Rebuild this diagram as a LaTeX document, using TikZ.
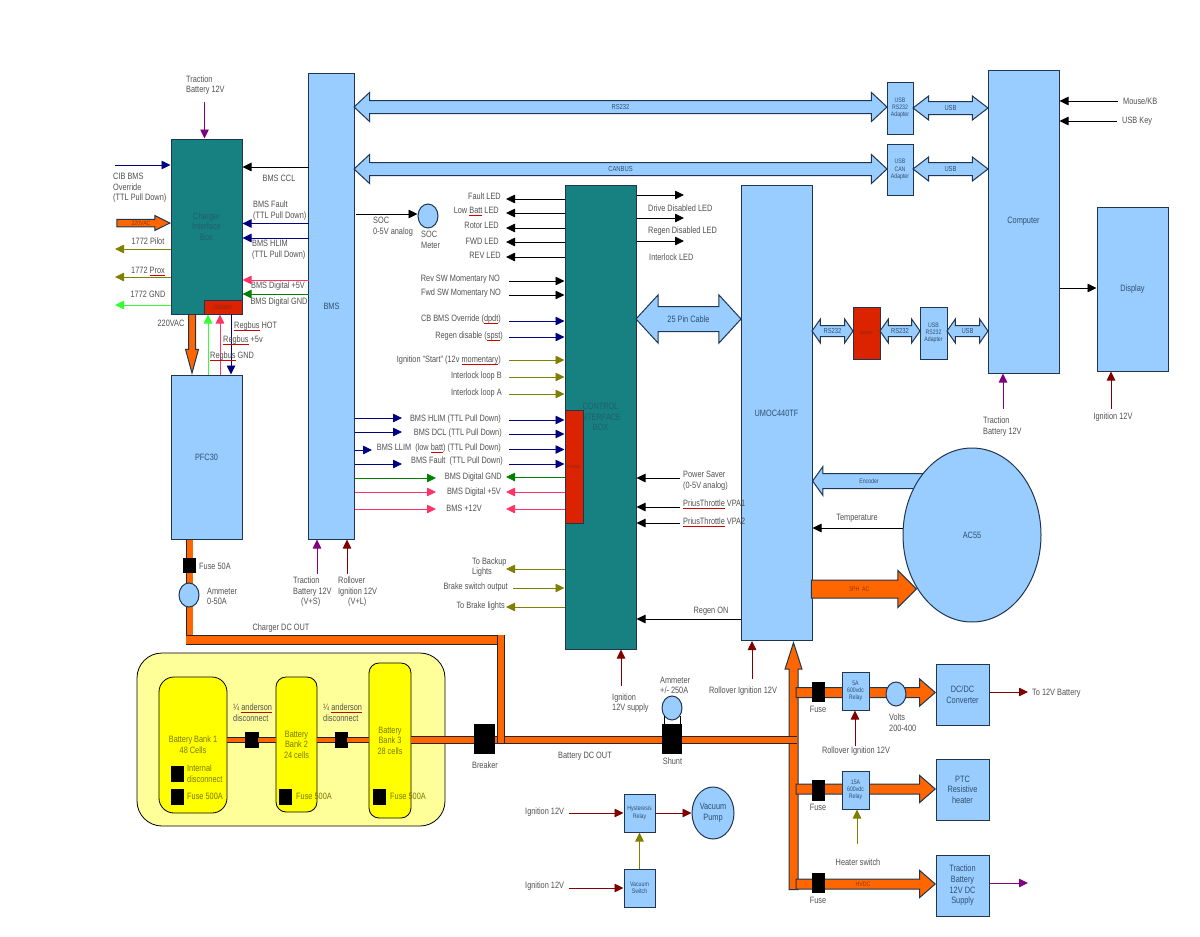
\documentclass[tikz,border=0pt]{standalone}
\usepackage{fontspec}
\setmainfont[FakeStretch=0.8]{Liberation Sans}
\usetikzlibrary{arrows.meta,shapes.arrows,shapes.geometric}

\definecolor{boxblue}{HTML}{99CCFF}
\definecolor{boxline}{HTML}{1F3550}
\definecolor{boxtext}{HTML}{2F5070}
\definecolor{cibteal}{HTML}{178080}
\definecolor{tealtext}{HTML}{1F6070}
\definecolor{isored}{HTML}{DC2300}
\definecolor{redtext}{HTML}{8A2A10}
\definecolor{busorange}{HTML}{FF6600}
\definecolor{orangetext}{HTML}{8A3A00}
\definecolor{packyellow}{HTML}{FFFF99}
\definecolor{bankyellow}{HTML}{FFFF00}
\definecolor{banktext}{HTML}{777700}
\definecolor{labeltext}{HTML}{505050}
\definecolor{sigblack}{HTML}{000000}
\definecolor{signavy}{HTML}{000080}
\definecolor{sigolive}{HTML}{808000}
\definecolor{sigpink}{HTML}{FF3366}
\definecolor{siggreen}{HTML}{008000}
\definecolor{siglime}{HTML}{33FF33}
\definecolor{sigmaroon}{HTML}{800000}
\definecolor{sigpurple}{HTML}{800080}

\newcommand{\lblfont}{\fontsize{9.2}{10.6}\selectfont}
\newcommand{\smallfont}{\fontsize{7.3}{8}\selectfont}
\newcommand{\tinyfont}{\fontsize{6.5}{7.4}\selectfont}
\newsavebox{\spellbox}
\newcommand{\speller}[1]{\sbox{\spellbox}{#1}\rlap{\usebox{\spellbox}}\textcolor{red!80!black}{\rule[-1.6pt]{\wd\spellbox}{.4pt}}}

\tikzset{
    lbl/.style={font=\lblfont, text=labeltext, inner sep=0pt, align=center},
    lblw/.style={lbl, anchor=west, align=left},
    lble/.style={lbl, anchor=east, align=right},
    box/.style 2 args={draw=boxline, line width=1pt, fill=boxblue, inner sep=0pt,
        minimum width=#1, minimum height=#2, font=\lblfont, text=boxtext, align=center},
    tealbox/.style 2 args={box={#1}{#2}, fill=cibteal, text=tealtext},
    redbox/.style 2 args={box={#1}{#2}, fill=isored, text=redtext},
    meter/.style 2 args={ellipse, box={#1}{#2}},
    bank/.style n args={3}{draw=black, line width=.8pt, fill=bankyellow, rounded corners=#3,
        minimum width=#1, minimum height=#2, inner sep=0pt, font=\lblfont, text=banktext, align=center},
    fuse/.style 2 args={fill=black, draw=black, inner sep=0pt, minimum width=#1, minimum height=#2},
    sig/.style={line width=.8pt, -{Triangle[length=9pt,width=8.5pt]}, draw=#1, color=#1},
    bus/.style={draw=black!85, line width=.75pt, double=busorange, double distance=#1},
    % arguments: length, head width, shaft width, tip angle
    fatarrow/.style n args={4}{single arrow, draw=boxline, line width=1pt, inner xsep=0pt,
        text height=4.65pt, text depth=0pt, inner ysep={(#3pt-4.65pt)/2},
        minimum height=#1, minimum width=#2, single arrow head extend={(#2pt-#3pt)/2},
        single arrow tip angle=#4, font=\tinyfont},
    hvarrow/.style n args={4}{fatarrow={#1}{#2}{#3}{#4}, fill=busorange, text=orangetext},
    cable/.style n args={4}{double arrow, draw=boxline, line width=1pt, fill=boxblue, inner xsep=0pt,
        text height=5.2pt, text depth=0pt, inner ysep={(#3pt-5.2pt)/2},
        minimum height=#1, minimum width=#2, double arrow head extend={(#2pt-#3pt)/2},
        double arrow tip angle=#4, font=\smallfont, text=boxtext},
}

\begin{document}
\begin{tikzpicture}[x=1pt,y=-1pt]
    \useasboundingbox (0,0) rectangle (1200,937);

    % Thick arrows (drawn below the boxes)
    \node[hvarrow={247}{16}{8}{35.5}, rotate=90, anchor=tip] (hvbus) at (793.5,641) {};
    \node[hvarrow={139}{26}{9}{82}, anchor=tip] (hvdcdc) at (936,692.5) {};
    \node[hvarrow={139}{26}{9}{82}, anchor=tip] (hvptc) at (936,789) {};
    \node[hvarrow={139}{26}{9}{82}, anchor=tip] (hvtraction) at (936,884) {};
    \node[font=\tinyfont, text=orangetext, inner sep=0pt] (hvdctext) at (863,884) {HVDC};
    \node[hvarrow={53}{14}{6.5}{53}, anchor=tip] (ac220in) at (171,223) {};
    \node[font=\tinyfont, text=orangetext, inner sep=0pt] (ac220text) at (141,223) {220VAC};
    \node[hvarrow={61}{12}{6}{30.5}, rotate=-90, anchor=tip] (ac220down) at (192,375) {};
    \node[fatarrow={113}{28}{14}{109}, fill=boxblue, rotate=180, anchor=tip] (encoder) at (812,481) {};
    \node[font=\tinyfont, text=boxtext, inner sep=0pt] (encodertext) at (869,481) {Encoder};

    % Battery pack
    \node[draw=black, line width=.8pt, fill=packyellow, rounded corners=25pt, minimum width=308,
        minimum height=173, inner sep=0pt] (pack) at (291,739.5) {};
    \node[bank={68}{136}{15pt}] (bank1) at (193,745) {Battery Bank 1\\48 Cells};
    \node[bank={41}{135}{10pt}] (bank2) at (296.5,744.5) {Battery\\Bank 2\\24 cells};
    \node[bank={42}{155}{10pt}] (bank3) at (390,740.5) {Battery\\Bank 3\\28 cells};
    \node[fuse={13}{15}] (ander1) at (251.5,740) {};
    \node[fuse={12}{15}] (ander2) at (341,740) {};
    \node[fuse={12}{15}] (intdisc) at (177,773.5) {};
    \node[fuse={12}{15}] (fuse1) at (177,796.5) {};
    \node[fuse={12}{15}] (fuse2) at (285,796.5) {};
    \node[fuse={12}{15}] (fuse3) at (379,796.5) {};

    % Orange bus
    \coordinate (busend) at (797,740);
    \coordinate (dcleft) at (189.5,645);
    \coordinate (dchl) at (186,640);
    \coordinate (dchr) at (505,640);
    \coordinate (dcvtop) at (501,635);
    \coordinate (dcvbot) at (501,743);
    \draw[bus=6.5pt] (bank3.east |- busend) -- (busend);
    \draw[bus=4.5pt] (bank1.east |- ander1) -- (ander1);
    \draw[bus=4.5pt] (ander1) -- (bank2.west |- ander1);
    \draw[bus=4.5pt] (bank2.east |- ander2) -- (ander2);
    \draw[bus=4.5pt] (ander2) -- (bank3.west |- ander2);
    \draw[bus=6pt] (dcleft |- 0,539) -- (dcleft);
    \draw[bus=8.5pt] (dchl) -- (dchr);
    \draw[bus=6pt] (dcvtop) -- (dcvbot);

    % Main boxes
    \node[box={45.5}{466}] (bms) at (331.5,306) {BMS};
    \node[tealbox={71}{175}] (charger) at (206.5,226.5) {Charger\\Interface\\Box};
    \node[redbox={38}{14}, font=\fontsize{7}{8}\selectfont] (isocharger) at (223,307) {Isolator};
    \node[box={71}{164}] (pfc30) at (206.5,457) {PFC30};
    \node[tealbox={71}{464}] (cib) at (600.5,417) {CONTROL\\INTERFACE\\BOX};
    \node[redbox={18}{113}, font=\fontsize{5}{6}\selectfont] (isocib) at (574,466.5) {Isolator};
    \node[box={71}{455}] (umoc) at (776.5,413) {UMOC440TF};
    \node[box={26}{52}, font=\tinyfont] (usbrs1) at (900,108) {USB\\RS232\\Adapter};
    \node[box={26}{51}, font=\tinyfont] (usbcan) at (900,169.5) {USB\\CAN\\Adapter};
    \node[box={71}{303}] (computer) at (1023.5,221.5) {Computer};
    \node[box={71}{164}] (display) at (1132.5,289) {Display};
    \node[redbox={27}{52}, font=\fontsize{5}{6}\selectfont] (isocomp) at (866.5,333) {Isolator};
    \node[box={27}{52}, font=\tinyfont] (usbrs2) at (933.5,333) {USB\\RS232\\Adapter};
    \node[meter={138}{174}] (ac55) at (972,535) {AC55};
    \node[hvarrow={105}{36}{17}{90}, anchor=tip] (ph3) at (917,589) {3PH\ \ AC};

    % Cables
    \node[cable={533}{28}{12}{86}] (rs232top) at (620.5,107) {RS232};
    \node[cable={533}{28}{12}{86}] (canbus) at (620.5,169) {CANBUS};
    \node[cable={75}{23}{12}{75}] (usbtop1) at (950.5,108) {USB};
    \node[cable={75}{23}{12}{75}] (usbtop2) at (950.5,169) {USB};
    \node[cable={41}{23}{10}{110}] (rs232low1) at (832.5,331) {RS232};
    \node[cable={40}{23}{10}{110}] (rs232low2) at (900,331) {RS232};
    \node[cable={41}{23}{10}{110}] (usblow) at (967.5,331) {USB};
    \node[cable={105}{46}{22.6}{95}, font=\lblfont, text height=6.6pt] (pin25) at (688.5,319) {25 Pin Cable};

    % Charger box signals
    \coordinate (tractop) at (204.5,102);
    \draw[sig=sigpurple] (tractop) -- (tractop |- charger.north);
    \node[lblw] (tractoptext) at (186,85) {Traction\\Battery 12V};
    \coordinate (cibstart) at (115,165);
    \draw[sig=signavy] (cibstart) -- (charger.west |- cibstart);
    \node[lbl, anchor=west, align=left] (cibtext) at (113,188) {CIB BMS\\Override\\(TTL Pull Down)};
    \coordinate (cclstart) at (309,167);
    \draw[sig=sigblack] (cclstart) -- (charger.east |- cclstart);
    \node[lbl] (ccltext) at (279,178) {BMS CCL};
    \coordinate (faultstart) at (309,223.5);
    \draw[sig=signavy] (faultstart) -- (charger.east |- faultstart);
    \node[lblw] (faulttext) at (253,210.5) {BMS Fault\\(TTL Pull Down)};
    \coordinate (hlimstart) at (309,238);
    \draw[sig=signavy] (hlimstart) -- (charger.east |- hlimstart);
    \node[lblw] (hlimtext) at (252,250) {BMS HLIM\\(TTL Pull Down)};
    \coordinate (dig5start) at (309,280);
    \draw[sig=sigpink] (dig5start) -- (charger.east |- dig5start);
    \node[lbl] (dig5text) at (278,286) {BMS Digital +5V};
    \coordinate (dgndstart) at (309,294);
    \draw[sig=siggreen] (dgndstart) -- (charger.east |- dgndstart);
    \node[lbl] (dgndtext) at (279,302) {BMS Digital GND};
    \coordinate (pilotend) at (115,249);
    \draw[sig=sigolive] (charger.west |- pilotend) -- (pilotend);
    \node[lbl] (pilottext) at (148,241) {1772 Pilot};
    \coordinate (proxend) at (115,277);
    \draw[sig=sigolive] (charger.west |- proxend) -- (proxend);
    \node[lbl] (proxtext) at (148,271) {1772 \speller{Prox}};
    \coordinate (gndend) at (115,305);
    \draw[sig=siglime] (charger.west |- gndend) -- (gndend);
    \node[lbl] (gndtext) at (148,294) {1772 GND};
    \node[lbl] (vac220) at (171,323) {220VAC};
    \coordinate (reggnd) at (208,375);
    \coordinate (regfive) at (220,375);
    \coordinate (reghot) at (231,314);
    \draw[sig=siglime] (reggnd) -- (reggnd |- charger.south);
    \draw[sig=sigpink] (regfive) -- (regfive |- charger.south);
    \draw[sig=signavy] (reghot) -- (reghot |- pfc30.north);
    \node[lblw] (reghottext) at (234,326) {\speller{Regbus} HOT};
    \node[lblw] (regfivetext) at (223,340) {\speller{Regbus} +5v};
    \node[lblw] (reggndtext) at (210,356) {\speller{Regbus} GND};

    % SOC meter
    \node[meter={20}{24}] (socmeter) at (428,216) {};
    \coordinate (socstart) at (356,214);
    \draw[sig=sigblack] (socstart) -- (socmeter.west |- socstart);
    \node[lblw] (soctext) at (373,226.5) {SOC\\0-5V analog};
    \node[lblw] (socmetertext) at (421,240) {SOC\\Meter};

    % Control box, LED outputs
    \coordinate (faultled) at (506,199);
    \draw[sig=sigblack] (cib.west |- faultled) -- (faultled);
    \node[lble] (faultledtext) at (501,196) {Fault LED};
    \coordinate (lowbatt) at (506,213);
    \draw[sig=sigblack] (cib.west |- lowbatt) -- (lowbatt);
    \node[lble] (lowbatttext) at (499,211) {Low \speller{Batt} LED};
    \coordinate (rotorled) at (506,228);
    \draw[sig=sigblack] (cib.west |- rotorled) -- (rotorled);
    \node[lble] (rotorledtext) at (499,225) {Rotor LED};
    \coordinate (fwdled) at (506,242);
    \draw[sig=sigblack] (cib.west |- fwdled) -- (fwdled);
    \node[lble] (fwdledtext) at (499,241) {FWD LED};
    \coordinate (revled) at (506,257);
    \draw[sig=sigblack] (cib.west |- revled) -- (revled);
    \node[lble] (revledtext) at (501,255) {REV LED};
    \coordinate (driveled) at (684,195);
    \draw[sig=sigblack] (cib.east |- driveled) -- (driveled);
    \node[lblw] (driveledtext) at (648,208) {Drive Disabled LED};
    \coordinate (regenled) at (684,218);
    \draw[sig=sigblack] (cib.east |- regenled) -- (regenled);
    \node[lblw] (regenledtext) at (648,231) {Regen Disabled LED};
    \coordinate (lockled) at (684,241);
    \draw[sig=sigblack] (cib.east |- lockled) -- (lockled);
    \node[lblw] (lockledtext) at (649,257) {Interlock LED};

    % Control box, switch inputs
    \coordinate (revsw) at (509,281);
    \draw[sig=sigblack] (revsw) -- (cib.west |- revsw);
    \node[lble] (revswtext) at (500,279) {Rev SW Momentary NO};
    \coordinate (fwdsw) at (509,295);
    \draw[sig=sigblack] (fwdsw) -- (cib.west |- fwdsw);
    \node[lble] (fwdswtext) at (501,293) {Fwd SW Momentary NO};
    \coordinate (cbover) at (509,321);
    \draw[sig=signavy] (cbover) -- (cib.west |- cbover);
    \node[lble] (cbovertext) at (501,319) {CB BMS Override (\speller{dpdt})};
    \coordinate (regendis) at (509,337);
    \draw[sig=signavy] (regendis) -- (cib.west |- regendis);
    \node[lble] (regendistext) at (503,336) {Regen disable (\speller{spst})};
    \coordinate (ignstart) at (509,360);
    \draw[sig=sigolive] (ignstart) -- (cib.west |- ignstart);
    \node[lble] (ignstarttext) at (501,360) {Ignition "Start" (12v \speller{momentary})};
    \coordinate (loopb) at (509,377);
    \draw[sig=sigolive] (loopb) -- (cib.west |- loopb);
    \node[lble] (loopbtext) at (502,376) {Interlock loop B};
    \coordinate (loopa) at (509,394);
    \draw[sig=sigolive] (loopa) -- (cib.west |- loopa);
    \node[lble] (loopatext) at (502,393) {Interlock loop A};

    % BMS to control box
    \coordinate (bhlimtip) at (402,418);
    \draw[sig=signavy] (bms.east |- bhlimtip) -- (bhlimtip);
    \coordinate (bhlimin) at (509,420);
    \draw[sig=signavy] (bhlimin) -- (cib.west |- bhlimin);
    \node[lble] (bhlimtext) at (501,419.5) {BMS HLIM (TTL Pull Down)};
    \coordinate (bdcltip) at (402,432);
    \draw[sig=signavy] (bms.east |- bdcltip) -- (bdcltip);
    \coordinate (bdclin) at (509,434);
    \draw[sig=signavy] (bdclin) -- (cib.west |- bdclin);
    \node[lble] (bdcltext) at (502,433.5) {BMS DCL (TTL Pull Down)};
    \coordinate (bllimtip) at (372,450);
    \draw[sig=signavy] (bms.east |- bllimtip) -- (bllimtip);
    \coordinate (bllimin) at (509,449.5);
    \draw[sig=signavy] (bllimin) -- (cib.west |- bllimin);
    \node[lble] (bllimtext) at (501,448) {BMS LLIM\ \ (low \speller{batt}) (TTL Pull Down)};
    \coordinate (bfaulttip) at (402,464);
    \draw[sig=signavy] (bms.east |- bfaulttip) -- (bfaulttip);
    \coordinate (bfaultin) at (509,464);
    \draw[sig=signavy] (bfaultin) -- (cib.west |- bfaultin);
    \node[lble] (bfaulttext) at (503,461) {BMS Fault\ \ (TTL Pull Down)};
    \coordinate (bgndtip) at (436,478);
    \draw[sig=siggreen] (bms.east |- bgndtip) -- (bgndtip);
    \coordinate (bgndin) at (506,477);
    \draw[sig=siggreen] (cib.west |- bgndin) -- (bgndin);
    \node[lble] (bgndtext) at (502,477) {BMS Digital GND};
    \coordinate (bfivetip) at (436,492);
    \draw[sig=sigpink] (bms.east |- bfivetip) -- (bfivetip);
    \coordinate (bfivein) at (506,492);
    \draw[sig=sigpink] (cib.west |- bfivein) -- (bfivein);
    \node[lble] (bfivetext) at (501,492) {BMS Digital +5V};
    \coordinate (b12tip) at (436,509);
    \draw[sig=sigpink] (bms.east |- b12tip) -- (b12tip);
    \coordinate (b12in) at (506,509);
    \draw[sig=sigpink] (cib.west |- b12in) -- (b12in);
    \node[lble] (b12text) at (482,508) {BMS +12V};

    % Control box, lights and right side
    \coordinate (backup) at (506,569);
    \draw[sig=sigolive] (cib.west |- backup) -- (backup);
    \node[lblw] (backuptext) at (472,567) {To Backup\\Lights};
    \coordinate (brakesw) at (513,588);
    \draw[sig=sigolive] (brakesw) -- (cib.west |- brakesw);
    \node[lble] (brakeswtext) at (508,587) {Brake switch output};
    \coordinate (brakelt) at (506,607);
    \draw[sig=sigolive] (cib.west |- brakelt) -- (brakelt);
    \node[lble] (brakelttext) at (505,606) {To Brake lights};
    \coordinate (powersave) at (680,478);
    \draw[sig=sigblack] (powersave) -- (cib.east |- powersave);
    \node[lblw] (powersavetext) at (683,480.5) {Power Saver\\(0-5V analog)};
    \coordinate (vpaone) at (680,507);
    \draw[sig=sigblack] (vpaone) -- (cib.east |- vpaone);
    \node[lblw] (vpaonetext) at (683,504) {\speller{PriusThrottle} VPA1};
    \coordinate (vpatwo) at (680,523);
    \draw[sig=sigblack] (vpatwo) -- (cib.east |- vpatwo);
    \node[lblw] (vpatwotext) at (683,522) {\speller{PriusThrottle} VPA2};
    \coordinate (regenon) at (741,619);
    \draw[sig=sigblack] (regenon) -- (cib.east |- regenon);
    \node[lbl] (regenontext) at (711,611) {Regen ON};

    % Feeds from below
    \coordinate (bmstrac) at (317,574);
    \draw[sig=sigpurple] (bmstrac) -- (bmstrac |- bms.south);
    \node[lblw] (bmstractext) at (293,592) {Traction\\Battery 12V\\\hspace*{8pt}(V+S)};
    \coordinate (bmsroll) at (347,574);
    \draw[sig=sigmaroon] (bmsroll) -- (bmsroll |- bms.south);
    \node[lblw] (bmsrolltext) at (338,592) {Rollover\\Ignition 12V\\\hspace*{10pt}(V+L)};
    \coordinate (cibign) at (621,686);
    \draw[sig=sigmaroon] (cibign) -- (cibign |- cib.south);
    \node[lblw] (cibigntext) at (612,703) {Ignition\\12V supply};
    \coordinate (umocroll) at (752,679);
    \draw[sig=sigmaroon] (umocroll) -- (umocroll |- umoc.south);
    \node[lbl] (umocrolltext) at (743,691) {Rollover Ignition 12V};

    % Computer and display
    \coordinate (mouse) at (1118,101);
    \draw[sig=sigblack] (mouse) -- (computer.east |- mouse);
    \node[lblw] (mousetext) at (1123,101) {Mouse/KB};
    \coordinate (usbkey) at (1117,121);
    \draw[sig=sigblack] (usbkey) -- (computer.east |- usbkey);
    \node[lblw] (usbkeytext) at (1122,121) {USB Key};
    \coordinate (vidline) at (1060,288);
    \draw[sig=sigblack] (vidline) -- (display.west |- vidline);
    \coordinate (comptrac) at (1003,409);
    \draw[sig=sigpurple] (comptrac) -- (comptrac |- computer.south);
    \node[lblw] (comptractext) at (983,426.5) {Traction\\Battery 12V};
    \coordinate (dispign) at (1111,409);
    \draw[sig=sigmaroon] (dispign) -- (dispign |- display.south);
    \node[lbl] (dispigntext) at (1113,417) {Ignition 12V};

    % Motor
    \coordinate (tempstart) at (903,528);
    \draw[sig=sigblack] (tempstart) -- (umoc.east |- tempstart);
    \node[lbl] (temptext) at (857,518) {Temperature};

    % Charger output and battery labels
    \node[fuse={12}{14}] (fuse50) at (189,565) {};
    \node[lblw] (fuse50text) at (199,566) {Fuse 50A};
    \node[meter={20}{24}] (meter50) at (189,595) {};
    \node[lblw] (meter50text) at (207,596.5) {Ammeter\\0-50A};
    \node[lbl] (chargeout) at (281,628) {Charger DC OUT};
    \node[lblw] (andertext1) at (233,713) {¼ \speller{anderson}\\disconnect};
    \node[lblw] (andertext2) at (323,713) {¼ \speller{anderson}\\disconnect};
    \node[lblw, text=banktext] (intdisctext) at (187,773.5) {Internal\\disconnect};
    \node[lblw, text=banktext] (fuse1text) at (187,796) {Fuse 500A};
    \node[lblw, text=banktext] (fuse2text) at (296,796) {Fuse 500A};
    \node[lblw, text=banktext] (fuse3text) at (390,796) {Fuse 500A};

    % Breaker and shunt
    \node[fuse={20}{29}] (breaker) at (484,738.5) {};
    \node[lbl] (breakertext) at (485,765) {Breaker};
    \node[fuse={19}{29}] (shunt) at (671.5,738.5) {};
    \node[lbl] (shunttext) at (672.5,761) {Shunt};
    \node[meter={20}{24}] (shuntmeter) at (672,708) {};
    \draw[line width=.6pt] (shuntmeter.225) -- (shuntmeter.225 |- shunt.north);
    \draw[line width=.6pt] (shuntmeter.-45) -- (shuntmeter.-45 |- shunt.north);
    \node[lblw] (shuntmetertext) at (660,685.5) {Ammeter\\+/- 250A};
    \node[lbl] (batout) at (585,756) {Battery DC OUT};

    % Vacuum pump
    \node[box={31}{38}, font=\tinyfont] (hysrelay) at (639.5,813) {Hysteresis\\Relay};
    \node[box={31}{38}, font=\tinyfont] (vacswitch) at (639.5,888) {Vacuum\\Switch};
    \node[meter={42}{52}] (vacpump) at (713,813) {Vacuum\\Pump};
    \coordinate (hysign) at (569,813);
    \draw[sig=sigmaroon] (hysign) -- (hysrelay.west |- hysign);
    \node[lblw] (hysigntext) at (525,812) {Ignition 12V};
    \coordinate (vacign) at (569,888);
    \draw[sig=sigmaroon] (vacign) -- (vacswitch.west |- vacign);
    \node[lblw] (vacigntext) at (525,886) {Ignition 12V};
    \draw[sig=sigmaroon] (hysrelay) -- (vacpump);
    \draw[sig=sigolive] (vacswitch) -- (hysrelay);

    % High voltage loads
    \node[fuse={12}{19}] (fusedc) at (818,691.5) {};
    \node[lbl] (fusedctext) at (818,709) {Fuse};
    \node[box={27}{38}, font=\tinyfont] (relaydc) at (855.5,691) {5A\\600vdc\\Relay};
    \node[meter={20}{24}] (voltmeter) at (896,694) {};
    \node[lblw] (voltstext) at (889,722.5) {Volts\\200-400};
    \node[box={53}{61}] (dcdc) at (962.5,694.5) {DC/DC\\Converter};
    \coordinate (to12v) at (1028,692);
    \draw[sig=sigmaroon] (dcdc.east |- to12v) -- (to12v);
    \node[lblw] (to12vtext) at (1032,693) {To 12V Battery};
    \coordinate (relayroll) at (855,746);
    \draw[sig=sigmaroon] (relayroll) -- (relayroll |- relaydc.south);
    \node[lbl] (relayrolltext) at (856,751) {Rollover Ignition 12V};
    \node[fuse={12}{20}] (fuseptc) at (818,790) {};
    \node[lbl] (fuseptctext) at (818,807) {Fuse};
    \node[box={27}{38}, font=\tinyfont] (relayptc) at (855.5,790) {15A\\600vdc\\Relay};
    \node[box={53}{61}] (ptc) at (962.5,789.5) {PTC\\Resistive\\heater};
    \coordinate (heatsw) at (857,844);
    \draw[sig=sigolive] (heatsw) -- (heatsw |- relayptc.south);
    \node[lbl] (heatswtext) at (858,862) {Heater switch};
    \node[fuse={12}{19}] (fusetrac) at (818,882.5) {};
    \node[lbl] (fusetractext) at (818,900) {Fuse};
    \node[box={53}{61}] (tracsupply) at (962.5,885.5) {Traction\\Battery\\12V DC\\Supply};
    \coordinate (tracout) at (1028,883);
    \draw[sig=sigpurple] (tracsupply.east |- tracout) -- (tracout);
\end{tikzpicture}
\end{document}
